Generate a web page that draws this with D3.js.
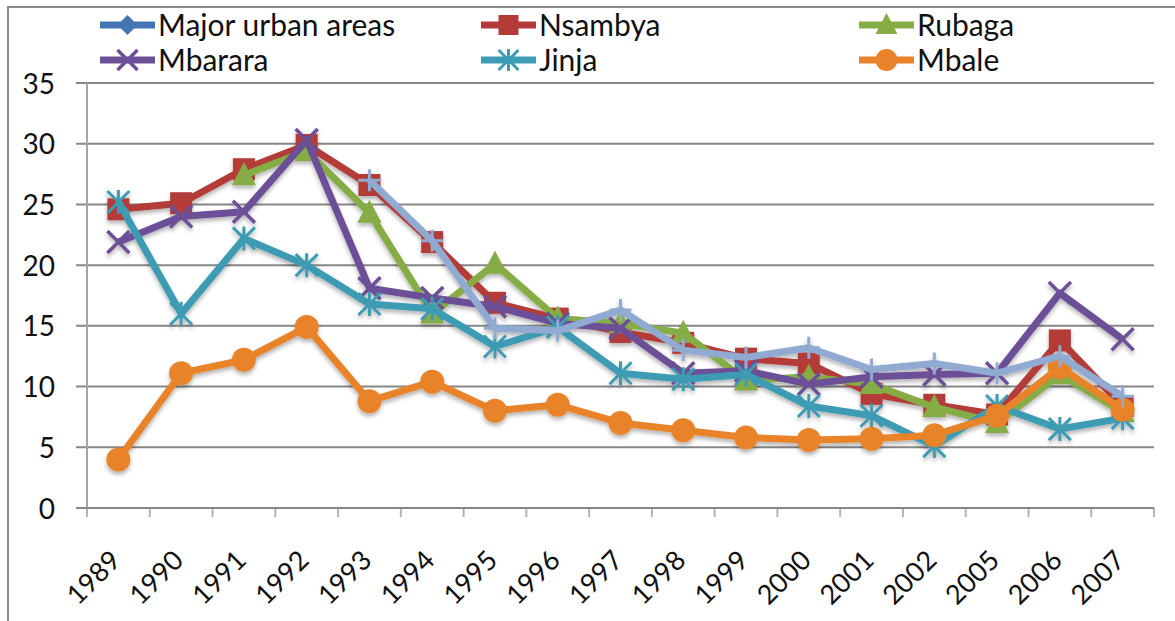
<!DOCTYPE html>
<html>
<head>
<meta charset="utf-8">
<script src="https://cdn.jsdelivr.net/npm/d3@7"></script>
<style>
  html, body { margin: 0; padding: 0; background: #fff; }
  svg { display: block; }
  text { font-family: Lato, "Open Sans", sans-serif; fill: #111; }
</style>
</head>
<body>
<svg id="chart" width="1175" height="621"></svg>
<script>
// ---- data ----
const categories = ["1989","1990","1991","1992","1993","1994","1995","1996","1997","1998","1999","2000","2001","2002","2005","2006","2007"];
const yTicks = [0, 5, 10, 15, 20, 25, 30, 35];

const majorUrban = [null,null,null,null,null,null,null,null,null,null,null,null,null,null,null,null,null];
const nsambya = [24.6, 25.1, 27.9, 29.9, 26.6, 21.9, 16.9, 15.6, 14.5, 13.6, 12.3, 11.9, 9.4, 8.5, 7.7, 13.8, 8.4];
const rubaga  = [null, null, 27.4, 29.4, 24.3, 16.0, 20.1, 15.6, 15.2, 14.4, 10.5, 10.8, 10.2, 8.3, 7.0, 11.0, 7.9];
const mbarara = [21.9, 24.0, 24.4, 30.3, 18.1, 17.3, 16.6, 15.2, 14.8, 11.1, 11.3, 10.2, 10.8, 11.0, 11.1, 17.7, 13.9];
const jinja   = [25.2, 16.0, 22.2, 20.0, 16.8, 16.4, 13.3, 14.9, 11.1, 10.6, 11.0, 8.4, 7.6, 5.1, 8.4, 6.5, 7.4];
const mbale   = [4.0, 11.1, 12.2, 14.9, 8.8, 10.4, 8.0, 8.5, 7.0, 6.4, 5.8, 5.6, 5.7, 6.0, 7.6, 11.6, 8.1];
const series7 = [null, null, null, null, 27.0, 22.0, 14.8, 14.6, 16.3, 13.0, 12.4, 13.2, 11.4, 11.9, 11.1, 12.5, 9.2];

const series = [
  { name: "Major urban areas", values: majorUrban, color: "#4575B4", marker: "diamond", legend: true },
  { name: "Nsambya", values: nsambya, color: "#B33B37", marker: "square", legend: true },
  { name: "Rubaga", values: rubaga, color: "#86AC45", marker: "triangle", legend: true },
  { name: "Mbarara", values: mbarara, color: "#6C5097", marker: "x", legend: true },
  { name: "Jinja", values: jinja, color: "#3D9BB3", marker: "star", legend: true },
  { name: "Mbale", values: mbale, color: "#E8832B", marker: "circle", legend: true },
  { name: "Series7", values: series7, color: "#90AAD2", marker: "plus", legend: false }
];

// ---- layout ----
const svg = d3.select("#chart");
const plotL = 87, plotR = 1154, plotT = 83, plotB = 508;

const x = d3.scaleBand().domain(categories).range([plotL, plotR]);
const y = d3.scaleLinear().domain([0, 35]).range([plotB, plotT]);

// shadow filter
const defs = svg.append("defs");
const f = defs.append("filter").attr("id", "shadow").attr("x", "-20%").attr("y", "-20%").attr("width", "140%").attr("height", "140%");
f.append("feDropShadow").attr("dx", 0).attr("dy", 3).attr("stdDeviation", 2).attr("flood-color", "#000").attr("flood-opacity", 0.3);

// outer border
svg.append("path")
  .attr("d", `M8,640 L8,7 L1180,7`)
  .attr("fill", "none").attr("stroke", "#8a8a8a").attr("stroke-width", 2);

// gridlines
svg.append("g").selectAll("line").data(yTicks.filter(d => d > 0)).join("line")
  .attr("x1", plotL - 11).attr("x2", plotR)
  .attr("y1", d => y(d)).attr("y2", d => y(d))
  .attr("stroke", "#878787").attr("stroke-width", 2);

// y axis line
svg.append("line").attr("x1", plotL).attr("x2", plotL).attr("y1", plotT).attr("y2", plotB + 9)
  .attr("stroke", "#a6a6a6").attr("stroke-width", 2);

// x axis ticks (category boundaries)
const bounds = categories.map(c => x(c)).concat([plotR]);
svg.append("g").selectAll("line").data(bounds).join("line")
  .attr("x1", d => d).attr("x2", d => d).attr("y1", plotB).attr("y2", plotB + 9)
  .attr("stroke", "#b3b3b3").attr("stroke-width", 2);

// x axis line
svg.append("line").attr("x1", plotL - 11).attr("x2", plotR).attr("y1", plotB).attr("y2", plotB)
  .attr("stroke", "#878787").attr("stroke-width", 2);

// y axis labels
const yAxis = d3.axisLeft(y).tickValues(yTicks).tickSize(0).tickPadding(0).tickFormat(d3.format("d"));
const gy = svg.append("g").attr("transform", `translate(55,0)`).call(yAxis);
gy.select(".domain").remove();
gy.selectAll("text").attr("font-size", 28).attr("font-family", "Lato, sans-serif").attr("fill", "#111").attr("dy", "0.36em");

// x axis labels
const xAxis = d3.axisBottom(x).tickSize(0).tickPadding(0);
const gx = svg.append("g").call(xAxis);
gx.select(".domain").remove();
gx.selectAll(".tick").attr("transform", d => `translate(${x(d) + x.bandwidth() / 2 + 4},562)`);
gx.selectAll("text")
  .attr("font-size", 27).attr("font-family", "Lato, sans-serif").attr("fill", "#111")
  .attr("y", 0).attr("dy", 0).attr("x", 0)
  .attr("text-anchor", "end").attr("transform", "rotate(-45)");

// marker drawing
function drawMarker(g, type, color, size) {
  const s = size;
  if (type === "square") {
    g.append("rect").attr("x", -s / 2).attr("y", -s / 2).attr("width", s).attr("height", s).attr("fill", color);
  } else if (type === "triangle") {
    g.append("path").attr("d", `M0,${-s * 0.6} L${s * 0.55},${s * 0.45} L${-s * 0.55},${s * 0.45} Z`).attr("fill", color);
  } else if (type === "circle") {
    g.append("circle").attr("r", s / 2 + 1).attr("fill", color);
  } else if (type === "diamond") {
    g.append("path").attr("d", `M0,${-s / 2} L${s / 2},0 L0,${s / 2} L${-s / 2},0 Z`).attr("fill", color);
  } else if (type === "x") {
    const h = s / 2;
    g.append("path").attr("d", `M${-h},${-h} L${h},${h} M${h},${-h} L${-h},${h}`).attr("stroke", color).attr("stroke-width", 3.5).attr("fill", "none");
  } else if (type === "star") {
    const h = s / 2;
    g.append("path").attr("d", `M${-h},${-h} L${h},${h} M${h},${-h} L${-h},${h} M0,${-h - 1} L0,${h + 1}`).attr("stroke", color).attr("stroke-width", 3).attr("fill", "none");
  } else if (type === "plus") {
    const h = s / 2;
    g.append("path").attr("d", `M0,${-h} L0,${h} M${-h},0 L${h},0`).attr("stroke", color).attr("stroke-width", 3).attr("fill", "none");
  }
}

// series
const line = d3.line()
  .defined(d => d.v != null)
  .x(d => x(d.c) + x.bandwidth() / 2)
  .y(d => y(d.v));

const plotG = svg.append("g").attr("filter", "url(#shadow)");
series.forEach(s => {
  const pts = categories.map((c, i) => ({ c, v: s.values[i] }));
  const g = plotG.append("g");
  g.append("path").datum(pts).attr("d", line)
    .attr("fill", "none").attr("stroke", s.color).attr("stroke-width", 7)
    .attr("stroke-linejoin", "round").attr("stroke-linecap", "butt");
  pts.filter(d => d.v != null).forEach(d => {
    const mg = g.append("g").attr("transform", `translate(${x(d.c) + x.bandwidth() / 2},${y(d.v)})`);
    drawMarker(mg, s.marker, s.color, 22);
  });
});

// legend
const legendSeries = series.filter(s => s.legend);
const colX = [100, 481, 859];
const rowY = [25, 60];
legendSeries.forEach((s, i) => {
  const cx = colX[i % 3], cy = rowY[Math.floor(i / 3)];
  const g = svg.append("g").attr("transform", `translate(${cx},${cy})`);
  g.append("line").attr("x1", 0).attr("x2", 55).attr("y1", 0).attr("y2", 0)
    .attr("stroke", s.color).attr("stroke-width", 7);
  const mg = g.append("g").attr("transform", "translate(27.5,0)");
  drawMarker(mg, s.marker, s.color, 20);
  g.append("text").attr("x", 58).attr("y", 0).attr("dy", "0.36em")
    .attr("font-size", 30).attr("font-family", "Lato, sans-serif").attr("fill", "#111")
    .text(s.name);
});
</script>
</body>
</html>
